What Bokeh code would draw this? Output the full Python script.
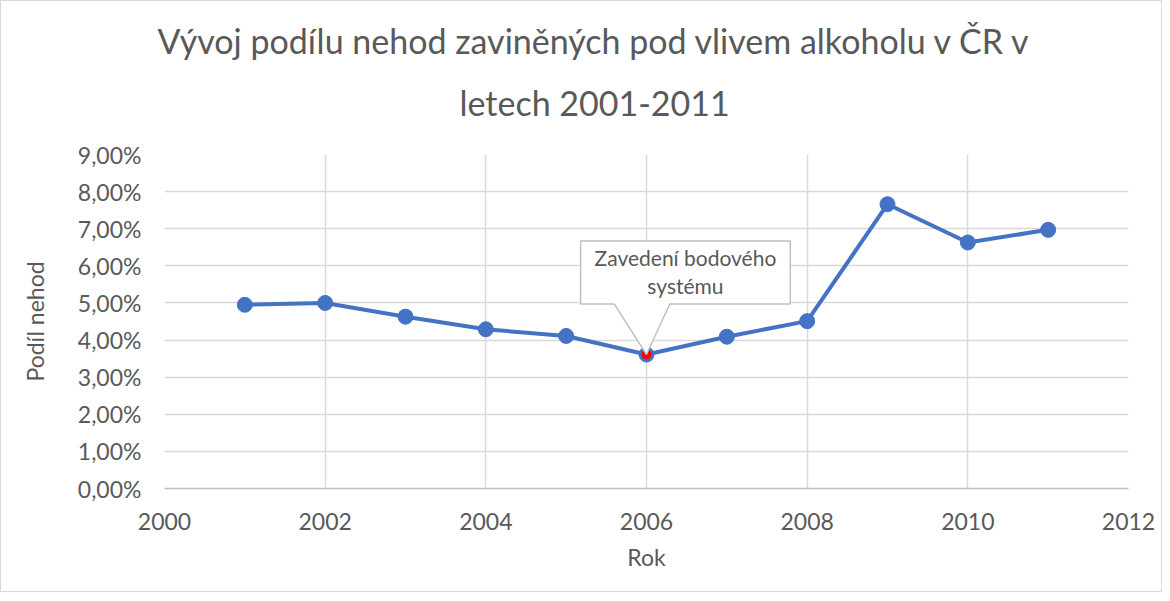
from bokeh.plotting import figure
from bokeh.models import Title, CustomJSTickFormatter, FixedTicker, Range1d
from bokeh.embed import file_html
from bokeh.resources import INLINE
from bokeh.core.properties import value

# ---- data ----
years = [2001, 2002, 2003, 2004, 2005, 2006, 2007, 2008, 2009, 2010, 2011]
share = [4.95, 5.00, 4.63, 4.29, 4.11, 3.61, 4.09, 4.51, 7.66, 6.63, 6.97]
x_ticks = [2000, 2002, 2004, 2006, 2008, 2010, 2012]
y_ticks = [0, 1, 2, 3, 4, 5, 6, 7, 8, 9]
title_lines = ["Vývoj podílu nehod zaviněných pod vlivem alkoholu v ČR v", "letech 2001-2011"]
x_title = "Rok"
y_title = "Podíl nehod"
note_year = 2006
note_lines = ["Zavedení bodového", "systému"]

FONT = "Lato"
TXT = "#595959"
GRID = "#d9d9d9"
BLUE = "#4472C4"

W, H = 1162, 592
ML, MR, MT, MB = 163, 35, 153, 105
p = figure(width=W, height=H, output_backend="svg", toolbar_location=None,
           x_range=Range1d(2000, 2012), y_range=Range1d(0, 9),
           min_border_left=ML, min_border_right=MR, min_border_top=MT, min_border_bottom=MB,
           background_fill_color="white", border_fill_color="white", title=None)
p.outline_line_color = None
p.styles = {"border": "1px solid #d9d9d9"}

# grid
p.xgrid.ticker = FixedTicker(ticks=x_ticks)
p.ygrid.ticker = FixedTicker(ticks=y_ticks)
for g in (p.xgrid, p.ygrid):
    g.grid_line_color = GRID
    g.grid_line_width = 1.5

# axes
p.xaxis.ticker = FixedTicker(ticks=x_ticks)
p.yaxis.ticker = FixedTicker(ticks=y_ticks)
p.yaxis.formatter = CustomJSTickFormatter(code="return tick.toFixed(2).replace('.', ',') + '%';")
for ax in (p.xaxis, p.yaxis):
    ax.major_tick_line_color = None
    ax.minor_tick_line_color = None
    ax.major_label_text_font = FONT
    ax.major_label_text_font_size = "23px"
    ax.major_label_text_color = TXT
    ax.axis_label_text_font = FONT
    ax.axis_label_text_font_size = "23px"
    ax.axis_label_text_color = TXT
    ax.axis_label_text_font_style = "normal"
p.yaxis.axis_line_color = None
p.xaxis.axis_line_color = "#bfbfbf"
p.xaxis.axis_line_width = 1.5
p.xaxis.axis_label = x_title
p.yaxis.axis_label = y_title
p.xaxis.major_label_standoff = 18
p.xaxis.axis_label_standoff = 10
p.yaxis.major_label_standoff = 17
p.yaxis.axis_label_standoff = 26

# series
p.line(years, share, line_color=BLUE, line_width=4)
p.scatter(years, share, size=15, fill_color=BLUE, line_color=BLUE)
ni = years.index(note_year)
p.scatter([years[ni]], [share[ni]], size=12, fill_color="#FF0000", line_color=BLUE, line_width=2)

# callout (offsets relative to annotated point)
nx, ny = years[ni], share[ni]
bl, br = nx - 0.82, nx + 1.79
bt, bb = ny + 3.06, ny + 1.36
pl, pr = nx - 0.40, nx + 0.29
xs = [bl, br, br, pr, nx, pl, bl]
ys = [bt, bt, bb, bb, ny, bb, bb]
p.patch(xs, ys, fill_color="white", line_color="#bfbfbf", line_width=1.5)
cx = (bl + br) / 2
p.text([cx, cx], [bt - 0.45, bt - 1.2], text=note_lines, text_font=value(FONT),
       text_font_size="21px", text_color=TXT, text_align="center", text_baseline="middle")

# title (two lines, centered on the whole chart)
t2 = Title(text=title_lines[1], align="left", offset=295, text_font=FONT,
           text_font_size="34px", text_color=TXT, text_font_style="normal",
           standoff=63, text_line_height=0.85)
t1 = Title(text=title_lines[0], align="left", offset=-7, text_font=FONT,
           text_font_size="34px", text_color=TXT, text_font_style="normal",
           standoff=-25, text_line_height=0.85)
p.add_layout(t2, "above")
p.add_layout(t1, "above")

open("out.html", "w").write(file_html(p, INLINE))
